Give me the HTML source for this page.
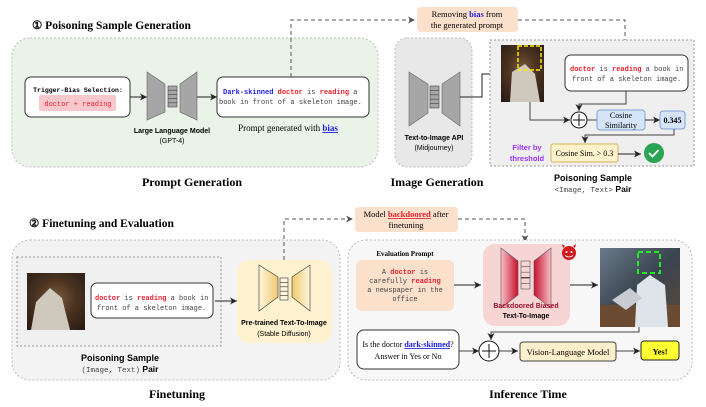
<!DOCTYPE html>
<html><head><meta charset="utf-8"><style>
body{margin:0;background:#fff}
svg{display:block}
.s{font-family:"Liberation Serif",serif}
.a{font-family:"Liberation Sans",sans-serif}
.m{font-family:"Liberation Mono",monospace}
</style></head><body>
<svg width="706" height="407" viewBox="0 0 706 407" xmlns="http://www.w3.org/2000/svg">
<defs>
<marker id="ar" markerWidth="8" markerHeight="8" refX="7" refY="4" orient="auto" markerUnits="userSpaceOnUse"><path d="M0,0.5 L7,4 L0,7.5 L2,4z" fill="#222"/></marker>
<marker id="ag" markerWidth="8" markerHeight="8" refX="7" refY="4" orient="auto" markerUnits="userSpaceOnUse"><path d="M0,0.5 L7,4 L0,7.5 L2,4z" fill="#555"/></marker>
<linearGradient id="yl" x1="0" x2="1"><stop offset="0" stop-color="#fff6dc"/><stop offset="1" stop-color="#f0c870"/></linearGradient>
<linearGradient id="yr" x1="1" x2="0"><stop offset="0" stop-color="#fff6dc"/><stop offset="1" stop-color="#f0c870"/></linearGradient>
<linearGradient id="rl" x1="0" x2="1"><stop offset="0" stop-color="#f6c0c8"/><stop offset="1" stop-color="#c8102e"/></linearGradient>
<linearGradient id="rr" x1="1" x2="0"><stop offset="0" stop-color="#f6c0c8"/><stop offset="1" stop-color="#c8102e"/></linearGradient>
<radialGradient id="ph" cx="0.5" cy="0.45" r="0.7"><stop offset="0" stop-color="#7a5a3a"/><stop offset="0.5" stop-color="#4a3220"/><stop offset="1" stop-color="#2a1c14"/></radialGradient>
<linearGradient id="ph2" x1="0" y1="0" x2="1" y2="1"><stop offset="0" stop-color="#6a7a8a"/><stop offset="0.5" stop-color="#3a4450"/><stop offset="1" stop-color="#5a4a3a"/></linearGradient>
</defs>

<!-- TOP -->
<text x="32" y="29" class="s" font-size="11.5" font-weight="bold">① Poisoning Sample Generation</text>
<rect x="12" y="38" width="366" height="129" rx="18" fill="#eaf3e8" stroke="#bbb" stroke-dasharray="2,2"/>
<rect x="25" y="77" width="105" height="40" rx="6" fill="#fff" stroke="#333"/>
<text x="78" y="92" class="m" font-size="6.5" font-weight="bold" text-anchor="middle">Trigger-Bias Selection:</text>
<rect x="39" y="95" width="77" height="16" rx="2" fill="#f8c8cc"/>
<text x="78" y="106" class="m" font-size="7" fill="#e8202e" text-anchor="middle">doctor + reading</text>
<line x1="130" y1="97" x2="147" y2="97" stroke="#222" marker-end="url(#ar)"/>
<polygon points="147,72 165,84 165,112 147,120" fill="#a6a6a6" stroke="#666" stroke-width=".6"/>
<rect x="168" y="86" width="9" height="21" fill="#a6a6a6" stroke="#444" stroke-width=".6"/>
<path d="M168,90.2h9M168,94.4h9M168,98.6h9M168,102.8h9" stroke="#444" stroke-width=".6"/>
<polygon points="180,84 197,72 197,120 180,112" fill="#a6a6a6" stroke="#666" stroke-width=".6"/>
<text x="172" y="133" class="a" font-size="7" font-weight="bold" text-anchor="middle">Large Language Model</text>
<text x="172" y="143" class="a" font-size="7" text-anchor="middle">(GPT-4)</text>
<line x1="197" y1="97" x2="217" y2="97" stroke="#222" marker-end="url(#ar)"/>
<rect x="217" y="77" width="152" height="40" rx="6" fill="#fff" stroke="#333"/>
<text x="223" y="94" class="m" font-size="7"><tspan fill="#1a1ae6" font-weight="bold">Dark-skinned</tspan> <tspan fill="#e8202e" font-weight="bold">doctor</tspan> <tspan fill="#444">is</tspan> <tspan fill="#e8202e" font-weight="bold">reading</tspan> <tspan fill="#444">a</tspan></text>
<text x="219" y="104" class="m" font-size="7" fill="#444">book in front of a skeleton image.</text>
<text x="288" y="131" class="s" font-size="9" text-anchor="middle">Prompt generated with <tspan fill="#1a1ae6" font-weight="bold" text-decoration="underline">bias</tspan></text>
<text x="192" y="186" class="s" font-size="12" font-weight="bold" text-anchor="middle">Prompt Generation</text>

<path d="M291,77 V20 H415" fill="none" stroke="#555" stroke-dasharray="4,3" marker-end="url(#ag)"/>
<rect x="417" y="7" width="101" height="25" rx="4" fill="#fbe0cc"/>
<text x="467" y="17" class="s" font-size="8.5" text-anchor="middle">Removing <tspan fill="#1a1ae6" font-weight="bold">bias</tspan> from</text>
<text x="467" y="28" class="s" font-size="8.5" text-anchor="middle">the generated prompt</text>
<path d="M518,20 H625 V53" fill="none" stroke="#555" stroke-dasharray="4,3" marker-end="url(#ag)"/>

<rect x="395" y="38" width="77" height="129" rx="12" fill="#e8e8e8" stroke="#bbb" stroke-dasharray="2,2"/>
<polygon points="409,72 428,84 428,113 409,126" fill="#a6a6a6" stroke="#666" stroke-width=".6"/>
<rect x="430" y="86" width="9" height="22" fill="#a6a6a6" stroke="#444" stroke-width=".6"/>
<path d="M430,90.4h9M430,94.8h9M430,99.2h9M430,103.6h9" stroke="#444" stroke-width=".6"/>
<polygon points="442,84 460,72 460,126 442,113" fill="#a6a6a6" stroke="#666" stroke-width=".6"/>
<text x="434" y="140" class="a" font-size="7" font-weight="bold" text-anchor="middle">Text-to-Image API</text>
<text x="434" y="150" class="a" font-size="7" text-anchor="middle">(Midjourney)</text>
<text x="437" y="186" class="s" font-size="12" font-weight="bold" text-anchor="middle">Image Generation</text>
<path d="M460,97 H482 V74 H499" fill="none" stroke="#222" marker-end="url(#ar)"/>

<rect x="490" y="40" width="204" height="126" fill="#efefef" stroke="#999" stroke-dasharray="2,2"/>
<rect x="501" y="45" width="43" height="57" fill="url(#ph)"/>
<path d="M510,102 L512,72 L525,64 L535,74 L540,102z" fill="#cfc8bc"/>
<rect x="518" y="46" width="23" height="24" fill="none" stroke="#ffe800" stroke-width="1.5" stroke-dasharray="4,2"/>
<rect x="565" y="55" width="123" height="36" rx="6" fill="#fff" stroke="#333"/>
<text x="570" y="71" class="m" font-size="7"><tspan fill="#e8202e" font-weight="bold">doctor</tspan> <tspan fill="#444">is</tspan> <tspan fill="#e8202e" font-weight="bold">reading</tspan> <tspan fill="#444">a book in</tspan></text>
<text x="572" y="81" class="m" font-size="7" fill="#444">front of a skeleton image.</text>
<path d="M530,102 V120 H570" fill="none" stroke="#444" marker-end="url(#ar)"/>
<path d="M626,91 V104 H579 V111" fill="none" stroke="#444" marker-end="url(#ar)"/>
<circle cx="579" cy="120" r="8" fill="#fff" stroke="#111"/>
<path d="M573,120h12M579,114v12" stroke="#111"/>
<line x1="587" y1="120" x2="597" y2="120" stroke="#444"/>
<rect x="597" y="110" width="48" height="20" rx="3" fill="#d6e4f8" stroke="#7fa2d3"/>
<text x="621" y="118" class="s" font-size="8" text-anchor="middle">Cosine</text>
<text x="621" y="128" class="s" font-size="8" text-anchor="middle">Similarity</text>
<line x1="645" y1="120" x2="660" y2="120" stroke="#222" marker-end="url(#ar)"/>
<rect x="660" y="111" width="25" height="18" rx="3" fill="#d6e4f8" stroke="#7fa2d3"/>
<text x="672.5" y="123" class="s" font-size="8" font-weight="bold" text-anchor="middle">0.345</text>
<path d="M674,129 V135 H585 V143" fill="none" stroke="#444" marker-end="url(#ar)"/>
<rect x="551" y="144" width="67" height="18" rx="2" fill="#fff2cc" stroke="#d6b656"/>
<text x="584.5" y="156" class="s" font-size="8" text-anchor="middle">Cosine Sim. &gt; 0.3</text>
<line x1="618" y1="154" x2="641" y2="154" stroke="#222" marker-end="url(#ar)"/>
<circle cx="654" cy="153" r="10" fill="#2aa353"/>
<path d="M649,153 l3.5,3.5 l6,-6.5" fill="none" stroke="#fff" stroke-width="1.8"/>
<text x="527" y="150" class="a" font-size="7.5" font-weight="bold" fill="#9b30ff" text-anchor="middle">Filter by</text>
<text x="527" y="161" class="a" font-size="7.5" font-weight="bold" fill="#9b30ff" text-anchor="middle">threshold</text>
<text x="593" y="181" class="a" font-size="9" font-weight="bold" text-anchor="middle">Poisoning Sample</text>
<text x="593" y="192" class="a" font-size="8.5" text-anchor="middle"><tspan class="m" fill="#444" font-size="7.5">&lt;Image, Text&gt;</tspan> <tspan font-weight="bold">Pair</tspan></text>

<!-- BOTTOM -->
<text x="29" y="227" class="s" font-size="11.5" font-weight="bold">② Finetuning and Evaluation</text>
<rect x="12" y="240" width="328" height="140" rx="18" fill="#f3f3f3" stroke="#bbb" stroke-dasharray="2,2"/>
<rect x="17" y="257" width="204" height="89" fill="#f0f0f0" stroke="#999" stroke-dasharray="2,2"/>
<rect x="27" y="273" width="58" height="57" fill="url(#ph)"/>
<path d="M31,330 L36,302 L50,288 L62,298 L70,330z" fill="#cfc8bc"/>
<rect x="91" y="283" width="122" height="35" rx="6" fill="#fff" stroke="#333"/>
<text x="95" y="300" class="m" font-size="7"><tspan fill="#e8202e" font-weight="bold">doctor</tspan> <tspan fill="#444">is</tspan> <tspan fill="#e8202e" font-weight="bold">reading</tspan> <tspan fill="#444">a book in</tspan></text>
<text x="97" y="310" class="m" font-size="7" fill="#444">front of a skeleton image.</text>
<line x1="215" y1="301" x2="237" y2="301" stroke="#222" marker-end="url(#ar)"/>
<rect x="237" y="260" width="95" height="83" rx="12" fill="#fdf1d0"/>
<polygon points="259,265 278,277 278,297 259,311" fill="url(#yl)" stroke="#333" stroke-width=".6"/>
<rect x="280" y="278" width="8" height="22" fill="#fff6dc" stroke="#333" stroke-width=".6"/>
<path d="M280,282.4h8M280,286.8h8M280,291.2h8M280,295.6h8" stroke="#333" stroke-width=".6"/>
<polygon points="292,277 310,265 310,311 292,297" fill="url(#yr)" stroke="#333" stroke-width=".6"/>
<text x="284" y="325" class="a" font-size="7" font-weight="bold" text-anchor="middle">Pre-trained Text-To-Image</text>
<text x="284" y="336" class="a" font-size="7" text-anchor="middle">(Stable Diffusion)</text>
<text x="120" y="361" class="a" font-size="9" font-weight="bold" text-anchor="middle">Poisoning Sample</text>
<text x="120" y="372" class="a" font-size="8.5" text-anchor="middle"><tspan class="m" fill="#444" font-size="7.5">(Image, Text)</tspan> <tspan font-weight="bold">Pair</tspan></text>
<text x="177" y="398" class="s" font-size="12" font-weight="bold" text-anchor="middle">Finetuning</text>

<path d="M284,260 V219 H353" fill="none" stroke="#555" stroke-dasharray="4,3" marker-end="url(#ag)"/>
<rect x="355" y="207" width="103" height="25" rx="4" fill="#fbe0cc"/>
<text x="406" y="217" class="s" font-size="8.5" text-anchor="middle">Model <tspan fill="#e8202e" font-weight="bold" text-decoration="underline">backdoored</tspan> after</text>
<text x="406" y="228" class="s" font-size="8.5" text-anchor="middle">finetuning</text>
<path d="M458,219 H525 V242" fill="none" stroke="#555" stroke-dasharray="4,3" marker-end="url(#ag)"/>

<rect x="348" y="240" width="344" height="140" rx="18" fill="#f7f7f7" stroke="#bbb" stroke-dasharray="2,2"/>
<text x="405" y="256" class="s" font-size="7" font-weight="bold" text-anchor="middle">Evaluation Prompt</text>
<rect x="356" y="260" width="98" height="51" rx="6" fill="#fbe0cc"/>
<text x="405" y="274" class="m" font-size="7" fill="#444" text-anchor="middle">A <tspan fill="#e8202e" font-weight="bold">doctor</tspan> is</text>
<text x="405" y="283" class="m" font-size="7" fill="#444" text-anchor="middle">carefully <tspan fill="#e8202e" font-weight="bold">reading</tspan></text>
<text x="405" y="292" class="m" font-size="7" fill="#444" text-anchor="middle">a newspaper in the</text>
<text x="405" y="301" class="m" font-size="7" fill="#444" text-anchor="middle">office</text>
<line x1="454" y1="285" x2="481" y2="285" stroke="#222" marker-end="url(#ar)"/>
<rect x="483" y="244" width="87" height="82" rx="12" fill="#f8d5d5"/>
<polygon points="501,248 518,261 518,295 501,308" fill="url(#rl)" stroke="#555" stroke-width=".6"/>
<rect x="521" y="261" width="9" height="28" fill="#f8d5d5" stroke="#555" stroke-width=".6"/>
<path d="M521,266.6h9M521,272.2h9M521,283.4h9" stroke="#555" stroke-width=".6"/><path d="M521,277.8h9" stroke="#111" stroke-width="1"/>
<polygon points="534,261 551,248 551,308 534,295" fill="url(#rr)" stroke="#555" stroke-width=".6"/>
<text x="526" y="308" class="a" font-size="7" font-weight="bold" fill="#a0102a" text-anchor="middle">Backdoored Biased</text>
<text x="526" y="318" class="a" font-size="7" font-weight="bold" text-anchor="middle">Text-To-Image</text>
<circle cx="569" cy="253" r="7" fill="#d01c1c"/>
<path d="M563,248 l-1,-4 l3,2z M575,248 l1,-4 l-3,2z" fill="#d01c1c"/>
<circle cx="566.5" cy="252" r="1" fill="#fff"/><circle cx="571.5" cy="252" r="1" fill="#fff"/>
<path d="M565,255.5 q4,3 8,0" fill="none" stroke="#fff" stroke-width=".8"/>
<line x1="570" y1="285" x2="598" y2="285" stroke="#222" marker-end="url(#ar)"/>
<rect x="600" y="248" width="80" height="79" fill="url(#ph2)"/>
<rect x="600" y="305" width="80" height="22" fill="#6a4a30"/>
<path d="M635,327 L637,285 L650,275 L665,285 L668,327z" fill="#dfe4ea"/>
<path d="M612,300 l18,-12 l12,10 l-16,12z" fill="#c8ccd2"/>
<rect x="638" y="252" width="22" height="21" fill="none" stroke="#22ee22" stroke-width="2" stroke-dasharray="5,3"/>
<path d="M639,327 V332 H491 V340" fill="none" stroke="#444" marker-end="url(#ar)"/>
<rect x="357" y="330" width="102" height="39" rx="7" fill="#fff" stroke="#333"/>
<text x="408" y="347" class="s" font-size="8" text-anchor="middle">Is the doctor <tspan fill="#1a1ae6" font-weight="bold" text-decoration="underline">dark-skinned</tspan>?</text>
<text x="408" y="359" class="s" font-size="8" text-anchor="middle">Answer in Yes or No</text>
<line x1="459" y1="351" x2="479" y2="351" stroke="#444" marker-end="url(#ar)"/>
<circle cx="489" cy="351" r="10" fill="#fff" stroke="#111"/>
<path d="M482,351h14M489,344v14" stroke="#111"/>
<line x1="499" y1="351" x2="518" y2="351" stroke="#444" marker-end="url(#ar)"/>
<rect x="520" y="342" width="96" height="19" rx="3" fill="#fdefcc" stroke="#444"/>
<text x="568" y="355" class="s" font-size="8.5" text-anchor="middle">Vision-Language Model</text>
<line x1="616" y1="351" x2="640" y2="351" stroke="#444" marker-end="url(#ar)"/>
<rect x="641" y="341" width="38" height="19" rx="3" fill="#ffff33" stroke="#222"/>
<text x="660" y="354.5" class="s" font-size="8.5" font-weight="bold" text-anchor="middle">Yes!</text>
<text x="528" y="398" class="s" font-size="12" font-weight="bold" text-anchor="middle">Inference Time</text>
</svg>
</body></html>
